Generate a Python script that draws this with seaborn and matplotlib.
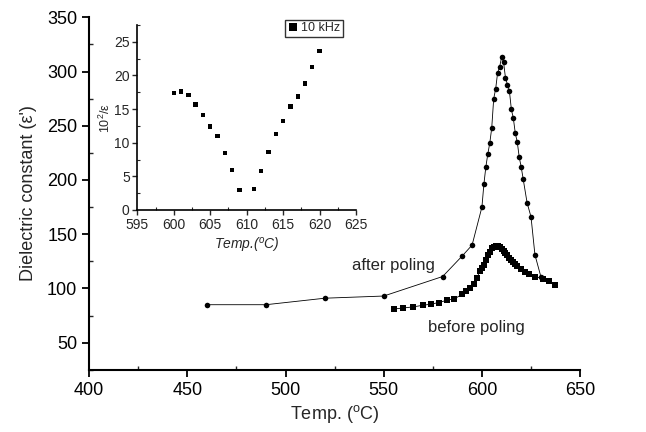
import matplotlib
matplotlib.use("Agg")
import matplotlib.pyplot as plt
from matplotlib.ticker import MultipleLocator
import seaborn as sns
import pandas as pd

# ---------------- data ----------------
after_temp = [460, 490, 520, 550, 580, 590, 595, 600, 601, 602, 603, 604, 605, 606, 607,
              608, 609, 610, 611, 612, 613, 614, 615, 616, 617, 618, 619, 620, 621, 623,
              625, 627, 630]
after_eps = [85, 85, 91, 93, 111, 130, 140, 175, 196, 212, 224, 234, 248, 275, 284,
             299, 304, 313, 309, 294, 288, 282, 265, 257, 243, 235, 221, 212, 201, 179,
             166, 131, 111]

before_temp = [555, 560, 565, 570, 574, 578, 582, 586, 590, 592, 594, 596, 597.5, 599, 600,
               601, 602, 603, 604, 605, 606, 607, 608, 609, 610, 611, 612, 613, 614, 615,
               616, 617, 618, 620, 622, 624, 627, 631, 634, 637]
before_eps = [81, 82, 83, 84.5, 85.5, 87, 89, 90.5, 94.5, 97.5, 100, 104.5, 110, 116, 119,
              122, 126, 131, 134, 137, 138.5, 139, 139, 138, 136.5, 134.5, 132.5, 130.5, 128.5, 126.5,
              124.5, 122.5, 121, 118, 115.5, 113.5, 111, 109, 106.5, 103.5]

inset_temp = [600, 601, 602, 603, 604, 605, 606, 607, 608, 609, 611, 612, 613, 614, 615,
              616, 617, 618, 619, 620]
inset_inv = [17.4, 17.6, 17.1, 15.7, 14.1, 12.4, 11.0, 8.5, 5.9, 3.0, 3.1, 5.8, 8.6, 11.3, 13.2,
             15.4, 16.9, 18.8, 21.3, 23.6]

after_df = pd.DataFrame({"temp": after_temp, "eps": after_eps})
before_df = pd.DataFrame({"temp": before_temp, "eps": before_eps})
inset_df = pd.DataFrame({"temp": inset_temp, "inv": inset_inv, "freq": "10 kHz"})

# ---------------- style ----------------
sns.set_style("ticks")
plt.rcParams["font.family"] = ["Liberation Sans", "DejaVu Sans"]
plt.rcParams["mathtext.fontset"] = "custom"
plt.rcParams["mathtext.rm"] = "Liberation Sans"
plt.rcParams["mathtext.it"] = "Liberation Sans:italic"

fig = plt.figure(figsize=(6.46, 4.32), dpi=100)

# ---------------- main plot ----------------
ax = fig.add_axes([0.138, 0.144, 0.76, 0.816])
sns.lineplot(data=after_df, x="temp", y="eps", ax=ax, color="black", linewidth=0.6,
             marker="o", markersize=4, markeredgewidth=0, sort=False, estimator=None)
sns.lineplot(data=before_df, x="temp", y="eps", ax=ax, color="black", linewidth=0.6,
             marker="s", markersize=4.2, markeredgewidth=0, sort=False, estimator=None)

ax.set_xlim(400, 650)
ax.set_ylim(25, 350)
ax.set_yticks(range(50, 351, 50))
ax.xaxis.set_minor_locator(MultipleLocator(25))
ax.yaxis.set_minor_locator(MultipleLocator(25))
ax.tick_params(which="major", direction="out", length=5, width=1.3, labelsize=13, colors="black")
ax.tick_params(which="minor", direction="in", length=3, width=1.0)
for s in ["left", "bottom"]:
    ax.spines[s].set_linewidth(1.5)
    ax.spines[s].set_color("black")
sns.despine(ax=ax)

ax.set_xlabel(r"Temp. ($^{\rm o}$C)", fontsize=13, labelpad=3)
ax.set_ylabel("Dielectric constant (ε')", fontsize=13, labelpad=7)

ax.text(555, 121, "after poling", fontsize=12, ha="center", va="center")
ax.text(597, 64, "before poling", fontsize=12, ha="center", va="center")

# ---------------- inset ----------------
ins = fig.add_axes([0.2126, 0.514, 0.3385, 0.428])
sns.scatterplot(data=inset_df, x="temp", y="inv", hue="freq", palette=["black"], ax=ins,
                marker="s", s=10, linewidth=0)
ins.set_xlim(595, 625)
ins.set_ylim(0, 27.5)
ins.set_xticks(range(595, 626, 5))
ins.set_yticks(range(0, 26, 5))
ins.xaxis.set_minor_locator(MultipleLocator(2.5))
ins.yaxis.set_minor_locator(MultipleLocator(2.5))
ins.tick_params(which="major", direction="out", length=3.5, width=1.0, labelsize=10, pad=2)
ins.tick_params(which="minor", direction="in", length=2, width=0.8)
for s in ["left", "bottom"]:
    ins.spines[s].set_linewidth(1.2)
    ins.spines[s].set_color("black")
sns.despine(ax=ins)
ins.set_xlabel(r"Temp.($^{o}$C)", fontsize=10, style="italic", labelpad=3)
ins.set_ylabel(r"10$^{2}$/ε", fontsize=9, labelpad=1)

leg = ins.legend(loc="upper right", bbox_to_anchor=(0.94, 1.03), fontsize=9,
                 frameon=True, fancybox=False, edgecolor="black", handlelength=0.8,
                 handletextpad=0.3, borderpad=0.2, borderaxespad=0, markerscale=1.6)
leg.get_frame().set_linewidth(1.0)

fig.savefig("out.png", dpi=100)
